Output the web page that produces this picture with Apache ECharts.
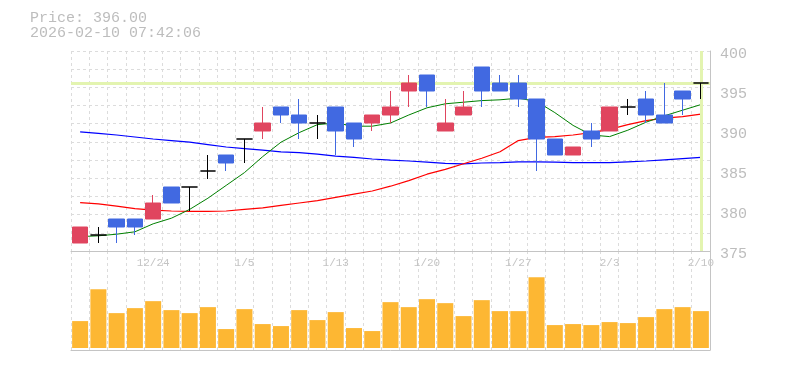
<!DOCTYPE html>
<html>
<head>
<meta charset="utf-8">
<script src="https://cdn.jsdelivr.net/npm/echarts@6/dist/echarts.min.js"></script>
<style>
html,body{margin:0;padding:0;background:#fff;}
#chart{width:785px;height:370px;}
</style>
</head>
<body>
<div id="chart"></div>
<script>
const dates = ['12/18','12/19','12/22','12/23','12/24','12/25','12/26','12/29','12/30','1/5',
  '1/6','1/7','1/8','1/9','1/13','1/14','1/15','1/16','1/19','1/20',
  '1/21','1/22','1/23','1/26','1/27','1/28','1/29','1/30','2/2','2/3',
  '2/4','2/5','2/6','2/9','2/10'];
const openP  = [376,377,379,379,379,383,383,385,387,389,390,393,392,391,393,391,391,392,395,397,390,392,398,396,396,394,389,387,390,390,393,394,392,395,396];
const closeP = [378,377,378,378,381,381,383,385,386,389,391,392,391,391,390,389,392,393,396,395,391,393,395,395,394,389,387,388,389,393,393,392,391,394,396];
const lowP   = [376,376,376,377,379,381,380,384,385,386,389,391,389,389,387,388,390,391,393,393,390,392,393,395,393,385,387,387,388,390,392,391,391,392,394];
const highP  = [378,378,379,379,382,383,383,387,387,389,393,393,394,392,393,391,392,395,397,397,394,395,398,397,397,394,389,388,391,393,394,395,396,395,396];
const ma5  = [376.8,376.9,377.1,377.4,378.4,379.1,380.2,381.6,383.2,384.8,386.8,388.6,389.8,390.8,391.0,390.6,390.6,391.0,392.0,392.9,393.4,393.6,393.8,393.9,394.1,393.7,392.3,390.7,389.5,389.3,390.1,391.1,391.9,392.6,393.3];
const ma25 = [381.05,380.9,380.6,380.3,380.1,380.0,379.95,379.95,380.0,380.2,380.4,380.7,381.0,381.3,381.7,382.1,382.5,383.1,383.8,384.6,385.2,385.9,386.6,387.4,388.8,389.2,389.3,389.5,389.8,390.2,390.8,391.3,391.6,391.8,392.1];
const ma75 = [389.9,389.7,389.5,389.25,389.0,388.8,388.6,388.3,388.0,387.8,387.6,387.4,387.3,387.1,386.85,386.7,386.5,386.35,386.25,386.1,385.95,385.9,386.0,386.05,386.15,386.15,386.1,386.05,386.05,386.05,386.15,386.25,386.4,386.55,386.7];
const volume = [270,590,350,400,470,380,350,410,190,390,240,220,380,280,360,200,170,460,410,490,450,320,480,370,370,710,230,240,230,260,250,310,390,410,370];
const priceTicks = {min:375, max:400, step:5};
const lastPrice = 396;
const headerLines = ['Price: 396.00', '2026-02-10 07:42:06'];

const FONT = '"Liberation Mono", "DejaVu Sans Mono", monospace';
const GRID_LINE = {show:true, lineStyle:{color:'#dcdcdc', type:[3,3], width:1}};
const AXIS_LINE = {show:true, onZero:false, lineStyle:{color:'#c4c4c4', width:1}};

const candleData = dates.map((d,i)=>[openP[i], closeP[i], lowP[i], highP[i]]);

const chart = echarts.init(document.getElementById('chart'), null, {renderer:'canvas'});
chart.setOption({
  animation:false,
  backgroundColor:'#fff',
  graphic: headerLines.map((t,i)=>({
    type:'text', left:30, top:11 + i*15,
    style:{text:t, fill:'#bdbdbd', font:'15px ' + FONT}
  })),
  grid:[
    {left:71, right:75, top:51, height:200},
    {left:71, right:75, top:251, bottom:20}
  ],
  xAxis:[
    {type:'category', gridIndex:0, data:dates, boundaryGap:true,
     axisLine:AXIS_LINE, axisTick:{show:false, interval:0},
     axisLabel:{interval:(idx)=>idx%5===4, color:'#c4c4c4', fontSize:11, fontFamily:FONT, margin:7},
     splitLine:Object.assign({interval:0}, GRID_LINE)},
    {type:'category', gridIndex:1, data:dates, boundaryGap:true,
     axisLine:AXIS_LINE, axisTick:{show:false, interval:0},
     axisLabel:{show:false},
     splitLine:Object.assign({interval:0}, GRID_LINE)}
  ],
  yAxis:[
    {type:'value', gridIndex:0, position:'right', min:priceTicks.min, max:priceTicks.max, interval:priceTicks.step,
     axisLine:AXIS_LINE, axisTick:{show:false}, splitLine:{show:false},
     axisLabel:{color:'#bdbdbd', fontSize:15, fontFamily:FONT, margin:10,
       formatter:(v)=>'{a|' + v + '}',
       rich:{a:{color:'#bdbdbd', fontSize:15, fontFamily:FONT, lineHeight:21, verticalAlign:'bottom', padding:[6,0,0,0]}}}},
    {type:'value', gridIndex:1, position:'right', min:-20, max:973,
     axisLine:AXIS_LINE, axisTick:{show:false}, splitLine:{show:false}, axisLabel:{show:false}},
    {type:'value', gridIndex:0, position:'left', min:0, max:11, interval:1,
     axisLine:{show:false}, axisTick:{show:false}, axisLabel:{show:false}, splitLine:GRID_LINE}
  ],
  series:[
    {type:'line', xAxisIndex:0, yAxisIndex:0, data:[], z:1, silent:true,
     markLine:{silent:true, symbol:['none','none'], animation:false,
       label:{show:false}, emphasis:{disabled:true},
       lineStyle:{color:'#e3f4b0', width:3, type:'solid'},
       data:[{yAxis:lastPrice},{xAxis:dates[dates.length-1]}]}},
    {name:'MA75', type:'line', xAxisIndex:0, yAxisIndex:0, data:ma75, showSymbol:false, z:2,
     lineStyle:{color:'#0000ff', width:1.2}},
    {name:'MA25', type:'line', xAxisIndex:0, yAxisIndex:0, data:ma25, showSymbol:false, z:2,
     lineStyle:{color:'#ff0000', width:1.2}},
    {name:'MA5', type:'line', xAxisIndex:0, yAxisIndex:0, data:ma5, showSymbol:false, z:2,
     lineStyle:{color:'#008000', width:1}},
    {name:'Price', type:'candlestick', xAxisIndex:0, yAxisIndex:0, data:candleData, barWidth:16, z:5,
     itemStyle:{color:'#e0455f', color0:'#4169e1', borderColor:'#e0455f', borderColor0:'#4169e1',
       borderColorDoji:'#000000', borderWidth:1}},
    {name:'Volume', type:'bar', xAxisIndex:1, yAxisIndex:1, data:volume, barWidth:16,
     itemStyle:{color:'#fdb733'}}
  ]
});
</script>
</body>
</html>
